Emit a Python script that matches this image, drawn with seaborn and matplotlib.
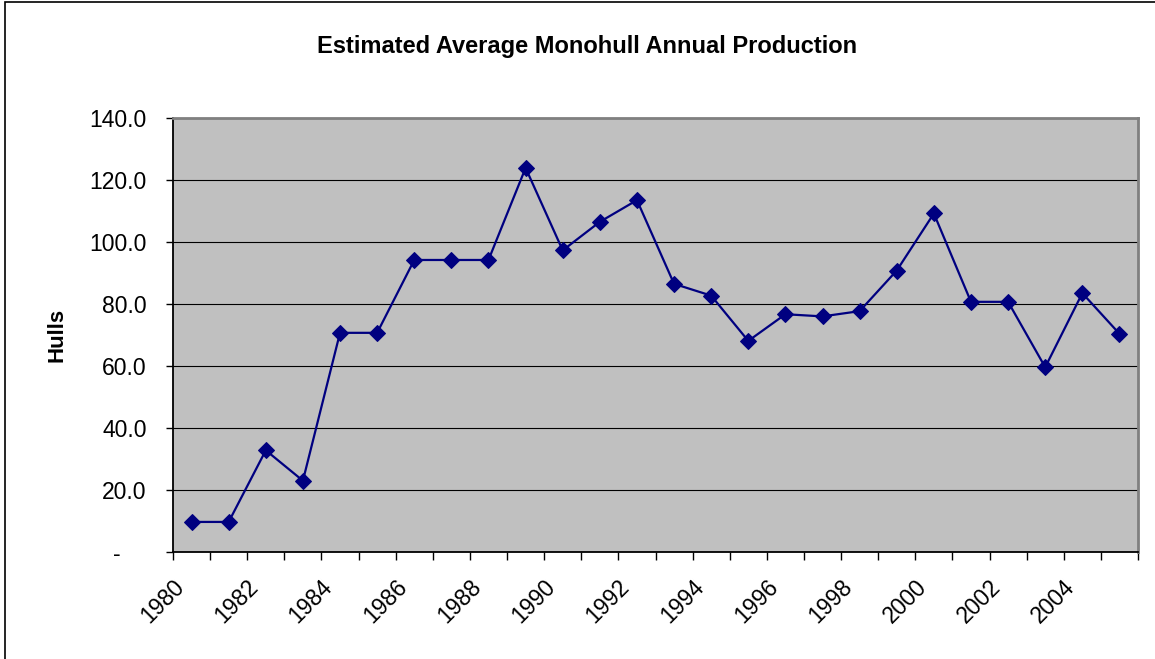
import pandas as pd
import seaborn as sns
import matplotlib.pyplot as plt
from matplotlib.patches import Rectangle
from matplotlib.ticker import FixedLocator, FuncFormatter
from matplotlib.transforms import ScaledTranslation

# data
years = list(range(1980, 2006))
hulls = [9.7, 9.7, 32.8, 23.0, 70.7, 70.7, 94.2, 94.2, 94.2, 123.9,
         97.3, 106.5, 113.5, 86.5, 82.7, 68.1, 76.7, 76.0, 77.7, 90.8,
         109.2, 80.7, 80.7, 59.6, 83.5, 70.4]
label_years = list(range(1980, 2005, 2))
y_ticks = [0, 20, 40, 60, 80, 100, 120, 140]

df = pd.DataFrame({'year': years, 'hulls': hulls})

sns.set_style('white')
plt.rcParams['font.family'] = ['Liberation Sans', 'DejaVu Sans']
plt.rcParams['text.color'] = 'black'
plt.rcParams['axes.labelcolor'] = 'black'
plt.rcParams['xtick.color'] = 'black'
plt.rcParams['ytick.color'] = 'black'

fig = plt.figure(figsize=(11.55, 6.59), dpi=100)
ax = fig.add_axes([173 / 1155, 1 - 552 / 659, (1138 - 173) / 1155, (552 - 118) / 659])
ax.set_facecolor('#C0C0C0')

sns.lineplot(data=df, x='year', y='hulls', ax=ax, color='#000080',
             marker='D', markersize=8, markeredgecolor='#000080',
             linewidth=1.6, zorder=3)

ax.set_xlim(1979.5, 2005.5)
ax.set_ylim(0, 140)

# y axis
ax.set_yticks(y_ticks)
ax.yaxis.set_major_formatter(FuncFormatter(lambda v, p: '-    ' if v == 0 else f'{v:.1f}'))
ax.yaxis.grid(True, color='black', linewidth=0.8)
ax.tick_params(axis='y', direction='out', length=5, width=1, color='black',
               labelsize=16.5, pad=14, left=True, labelcolor='black')

# x axis: labels on every second year, ticks between categories
ax.set_xticks(label_years)
ax.set_xticklabels([str(y) for y in label_years], rotation=45, ha='right',
                   rotation_mode='anchor', va='center')
ax.xaxis.set_minor_locator(FixedLocator([y - 0.5 for y in years] + [2005.5]))
ax.tick_params(axis='x', which='major', length=0, labelsize=16.5, pad=16,
               labelcolor='black')
ax.tick_params(axis='x', which='minor', direction='out', length=6, width=1,
               color='black', bottom=True)
shift = ScaledTranslation(-0.11, -0.09, fig.dpi_scale_trans)
for lab in ax.get_xticklabels():
    lab.set_transform(lab.get_transform() + shift)

ax.set_xlabel('')
ax.set_ylabel('Hulls', fontsize=16, fontweight='bold', labelpad=16)

for side in ['left', 'bottom']:
    ax.spines[side].set_color('black')
    ax.spines[side].set_linewidth(1.3)
for side in ['top', 'right']:
    ax.spines[side].set_color('#808080')
    ax.spines[side].set_linewidth(2)

fig.text(587 / 1155, 1 - 46 / 659, 'Estimated Average Monohull Annual Production',
         ha='center', va='center', fontsize=17, fontweight='bold')

# chart area border
fig.patches.append(Rectangle((5 / 1155, -0.1), 1.2, 0.1 + 1 - 2 / 659,
                             transform=fig.transFigure, fill=False,
                             edgecolor='black', linewidth=1.2, clip_on=False))

fig.savefig('out.png', dpi=100)
